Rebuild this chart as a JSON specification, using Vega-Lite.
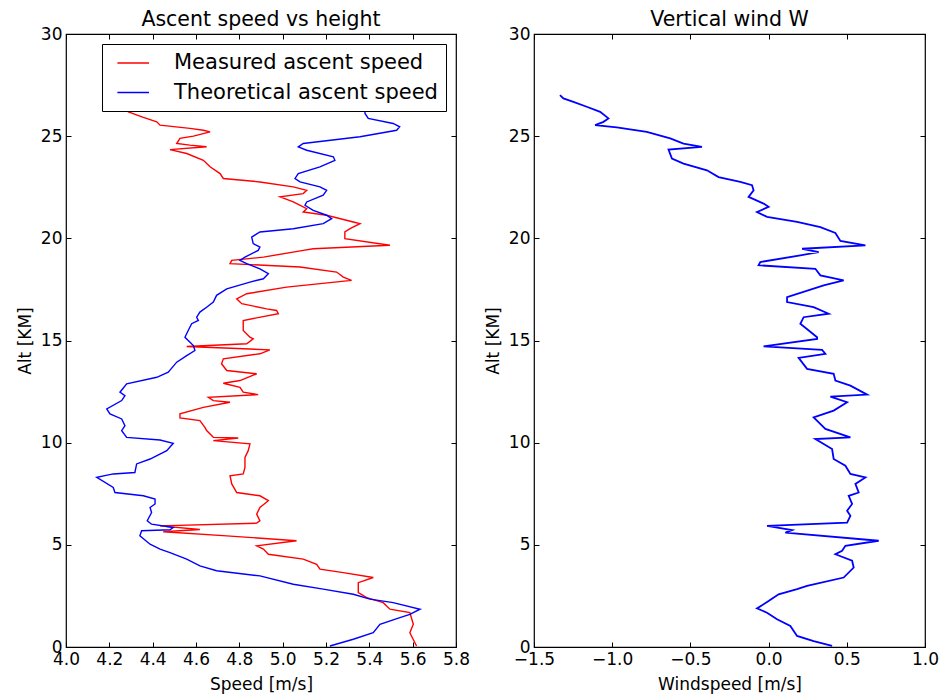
{
  "$schema": "https://vega.github.io/schema/vega-lite/v6.json",
  "background": "white",
  "padding": {"left": 15, "top": 8, "right": 5, "bottom": 2},
  "autosize": {"type": "pad"},
  "bounds": "flush",
  "spacing": 78,
  "config": {
    "font": "DejaVu Sans",
    "view": {"stroke": "black", "strokeWidth": 1.2},
    "axis": {
      "domain": false,
      "grid": false,
      "ticks": true,
      "tickSize": -5,
      "tickColor": "black",
      "tickWidth": 1,
      "labelFont": "DejaVu Sans",
      "labelFontSize": 17,
      "labelColor": "black",
      "labelFlush": false,
      "labelPadding": 9,
      "titleFont": "DejaVu Sans",
      "titleFontSize": 17,
      "titleFontWeight": "normal",
      "titleColor": "black"
    },
    "title": {"font": "DejaVu Sans", "fontSize": 20.5, "fontWeight": "normal", "color": "black", "offset": -5}
  },
  "datasets": {
    "ascent": [
      {"s": "Measured ascent speed", "i": 1, "v": 4.20, "alt": 26.9},
      {"s": "Measured ascent speed", "i": 2, "v": 4.288, "alt": 26.19},
      {"s": "Measured ascent speed", "i": 3, "v": 4.357, "alt": 25.92},
      {"s": "Measured ascent speed", "i": 4, "v": 4.419, "alt": 25.70},
      {"s": "Measured ascent speed", "i": 5, "v": 4.434, "alt": 25.54},
      {"s": "Measured ascent speed", "i": 6, "v": 4.572, "alt": 25.38},
      {"s": "Measured ascent speed", "i": 7, "v": 4.634, "alt": 25.29},
      {"s": "Measured ascent speed", "i": 8, "v": 4.665, "alt": 25.21},
      {"s": "Measured ascent speed", "i": 9, "v": 4.588, "alt": 25.00},
      {"s": "Measured ascent speed", "i": 10, "v": 4.526, "alt": 24.89},
      {"s": "Measured ascent speed", "i": 11, "v": 4.511, "alt": 24.64},
      {"s": "Measured ascent speed", "i": 12, "v": 4.572, "alt": 24.56},
      {"s": "Measured ascent speed", "i": 13, "v": 4.649, "alt": 24.48},
      {"s": "Measured ascent speed", "i": 14, "v": 4.480, "alt": 24.34},
      {"s": "Measured ascent speed", "i": 15, "v": 4.557, "alt": 24.15},
      {"s": "Measured ascent speed", "i": 16, "v": 4.634, "alt": 23.82},
      {"s": "Measured ascent speed", "i": 17, "v": 4.665, "alt": 23.50},
      {"s": "Measured ascent speed", "i": 18, "v": 4.711, "alt": 23.17},
      {"s": "Measured ascent speed", "i": 19, "v": 4.726, "alt": 22.93},
      {"s": "Measured ascent speed", "i": 20, "v": 4.895, "alt": 22.76},
      {"s": "Measured ascent speed", "i": 21, "v": 5.049, "alt": 22.52},
      {"s": "Measured ascent speed", "i": 22, "v": 5.111, "alt": 22.35},
      {"s": "Measured ascent speed", "i": 23, "v": 5.095, "alt": 22.19},
      {"s": "Measured ascent speed", "i": 24, "v": 4.988, "alt": 22.03},
      {"s": "Measured ascent speed", "i": 25, "v": 5.049, "alt": 21.78},
      {"s": "Measured ascent speed", "i": 26, "v": 5.111, "alt": 21.45},
      {"s": "Measured ascent speed", "i": 27, "v": 5.095, "alt": 21.29},
      {"s": "Measured ascent speed", "i": 28, "v": 5.203, "alt": 21.13},
      {"s": "Measured ascent speed", "i": 29, "v": 5.326, "alt": 20.80},
      {"s": "Measured ascent speed", "i": 30, "v": 5.357, "alt": 20.72},
      {"s": "Measured ascent speed", "i": 31, "v": 5.311, "alt": 20.47},
      {"s": "Measured ascent speed", "i": 32, "v": 5.287, "alt": 20.31},
      {"s": "Measured ascent speed", "i": 33, "v": 5.287, "alt": 19.98},
      {"s": "Measured ascent speed", "i": 34, "v": 5.495, "alt": 19.66},
      {"s": "Measured ascent speed", "i": 35, "v": 5.141, "alt": 19.49},
      {"s": "Measured ascent speed", "i": 36, "v": 5.095, "alt": 19.41},
      {"s": "Measured ascent speed", "i": 37, "v": 4.911, "alt": 19.08},
      {"s": "Measured ascent speed", "i": 38, "v": 4.765, "alt": 18.92},
      {"s": "Measured ascent speed", "i": 39, "v": 4.757, "alt": 18.76},
      {"s": "Measured ascent speed", "i": 40, "v": 5.080, "alt": 18.60},
      {"s": "Measured ascent speed", "i": 41, "v": 5.249, "alt": 18.35},
      {"s": "Measured ascent speed", "i": 42, "v": 5.280, "alt": 18.10},
      {"s": "Measured ascent speed", "i": 43, "v": 5.318, "alt": 17.94},
      {"s": "Measured ascent speed", "i": 44, "v": 5.018, "alt": 17.61},
      {"s": "Measured ascent speed", "i": 45, "v": 4.834, "alt": 17.29},
      {"s": "Measured ascent speed", "i": 46, "v": 4.788, "alt": 17.04},
      {"s": "Measured ascent speed", "i": 47, "v": 4.811, "alt": 16.80},
      {"s": "Measured ascent speed", "i": 48, "v": 4.926, "alt": 16.55},
      {"s": "Measured ascent speed", "i": 49, "v": 4.972, "alt": 16.47},
      {"s": "Measured ascent speed", "i": 50, "v": 4.980, "alt": 16.31},
      {"s": "Measured ascent speed", "i": 51, "v": 4.818, "alt": 15.98},
      {"s": "Measured ascent speed", "i": 52, "v": 4.818, "alt": 15.49},
      {"s": "Measured ascent speed", "i": 53, "v": 4.849, "alt": 15.16},
      {"s": "Measured ascent speed", "i": 54, "v": 4.864, "alt": 15.08},
      {"s": "Measured ascent speed", "i": 55, "v": 4.834, "alt": 14.84},
      {"s": "Measured ascent speed", "i": 56, "v": 4.557, "alt": 14.71},
      {"s": "Measured ascent speed", "i": 57, "v": 4.941, "alt": 14.54},
      {"s": "Measured ascent speed", "i": 58, "v": 4.895, "alt": 14.35},
      {"s": "Measured ascent speed", "i": 59, "v": 4.726, "alt": 14.10},
      {"s": "Measured ascent speed", "i": 60, "v": 4.718, "alt": 13.86},
      {"s": "Measured ascent speed", "i": 61, "v": 4.742, "alt": 13.53},
      {"s": "Measured ascent speed", "i": 62, "v": 4.880, "alt": 13.37},
      {"s": "Measured ascent speed", "i": 63, "v": 4.803, "alt": 13.04},
      {"s": "Measured ascent speed", "i": 64, "v": 4.726, "alt": 12.91},
      {"s": "Measured ascent speed", "i": 65, "v": 4.803, "alt": 12.71},
      {"s": "Measured ascent speed", "i": 66, "v": 4.818, "alt": 12.47},
      {"s": "Measured ascent speed", "i": 67, "v": 4.887, "alt": 12.35},
      {"s": "Measured ascent speed", "i": 68, "v": 4.657, "alt": 12.22},
      {"s": "Measured ascent speed", "i": 69, "v": 4.680, "alt": 12.06},
      {"s": "Measured ascent speed", "i": 70, "v": 4.757, "alt": 11.98},
      {"s": "Measured ascent speed", "i": 71, "v": 4.634, "alt": 11.73},
      {"s": "Measured ascent speed", "i": 72, "v": 4.526, "alt": 11.41},
      {"s": "Measured ascent speed", "i": 73, "v": 4.526, "alt": 11.21},
      {"s": "Measured ascent speed", "i": 74, "v": 4.618, "alt": 11.08},
      {"s": "Measured ascent speed", "i": 75, "v": 4.641, "alt": 10.75},
      {"s": "Measured ascent speed", "i": 76, "v": 4.649, "alt": 10.59},
      {"s": "Measured ascent speed", "i": 77, "v": 4.680, "alt": 10.26},
      {"s": "Measured ascent speed", "i": 78, "v": 4.795, "alt": 10.23},
      {"s": "Measured ascent speed", "i": 79, "v": 4.680, "alt": 10.10},
      {"s": "Measured ascent speed", "i": 80, "v": 4.849, "alt": 9.94},
      {"s": "Measured ascent speed", "i": 81, "v": 4.841, "alt": 9.61},
      {"s": "Measured ascent speed", "i": 82, "v": 4.826, "alt": 9.28},
      {"s": "Measured ascent speed", "i": 83, "v": 4.826, "alt": 8.79},
      {"s": "Measured ascent speed", "i": 84, "v": 4.818, "alt": 8.47},
      {"s": "Measured ascent speed", "i": 85, "v": 4.757, "alt": 8.38},
      {"s": "Measured ascent speed", "i": 86, "v": 4.765, "alt": 7.98},
      {"s": "Measured ascent speed", "i": 87, "v": 4.788, "alt": 7.56},
      {"s": "Measured ascent speed", "i": 88, "v": 4.895, "alt": 7.40},
      {"s": "Measured ascent speed", "i": 89, "v": 4.934, "alt": 7.16},
      {"s": "Measured ascent speed", "i": 90, "v": 4.895, "alt": 6.83},
      {"s": "Measured ascent speed", "i": 91, "v": 4.880, "alt": 6.50},
      {"s": "Measured ascent speed", "i": 92, "v": 4.895, "alt": 6.18},
      {"s": "Measured ascent speed", "i": 93, "v": 4.880, "alt": 6.06},
      {"s": "Measured ascent speed", "i": 94, "v": 4.434, "alt": 5.93},
      {"s": "Measured ascent speed", "i": 95, "v": 4.618, "alt": 5.75},
      {"s": "Measured ascent speed", "i": 96, "v": 4.449, "alt": 5.64},
      {"s": "Measured ascent speed", "i": 97, "v": 4.742, "alt": 5.44},
      {"s": "Measured ascent speed", "i": 98, "v": 5.064, "alt": 5.20},
      {"s": "Measured ascent speed", "i": 99, "v": 4.880, "alt": 4.95},
      {"s": "Measured ascent speed", "i": 100, "v": 4.911, "alt": 4.79},
      {"s": "Measured ascent speed", "i": 101, "v": 4.934, "alt": 4.54},
      {"s": "Measured ascent speed", "i": 102, "v": 5.095, "alt": 4.30},
      {"s": "Measured ascent speed", "i": 103, "v": 5.157, "alt": 4.05},
      {"s": "Measured ascent speed", "i": 104, "v": 5.172, "alt": 3.81},
      {"s": "Measured ascent speed", "i": 105, "v": 5.280, "alt": 3.64},
      {"s": "Measured ascent speed", "i": 106, "v": 5.418, "alt": 3.40},
      {"s": "Measured ascent speed", "i": 107, "v": 5.349, "alt": 3.15},
      {"s": "Measured ascent speed", "i": 108, "v": 5.349, "alt": 2.66},
      {"s": "Measured ascent speed", "i": 109, "v": 5.388, "alt": 2.42},
      {"s": "Measured ascent speed", "i": 110, "v": 5.464, "alt": 2.17},
      {"s": "Measured ascent speed", "i": 111, "v": 5.495, "alt": 1.85},
      {"s": "Measured ascent speed", "i": 112, "v": 5.587, "alt": 1.68},
      {"s": "Measured ascent speed", "i": 113, "v": 5.603, "alt": 1.11},
      {"s": "Measured ascent speed", "i": 114, "v": 5.587, "alt": 0.70},
      {"s": "Measured ascent speed", "i": 115, "v": 5.618, "alt": 0.05},
      {"s": "Theoretical ascent speed", "i": 1, "v": 5.38, "alt": 26.9},
      {"s": "Theoretical ascent speed", "i": 2, "v": 5.38, "alt": 26.11},
      {"s": "Theoretical ascent speed", "i": 3, "v": 5.395, "alt": 25.87},
      {"s": "Theoretical ascent speed", "i": 4, "v": 5.51, "alt": 25.62},
      {"s": "Theoretical ascent speed", "i": 5, "v": 5.54, "alt": 25.46},
      {"s": "Theoretical ascent speed", "i": 6, "v": 5.526, "alt": 25.29},
      {"s": "Theoretical ascent speed", "i": 7, "v": 5.357, "alt": 24.97},
      {"s": "Theoretical ascent speed", "i": 8, "v": 5.095, "alt": 24.64},
      {"s": "Theoretical ascent speed", "i": 9, "v": 5.072, "alt": 24.48},
      {"s": "Theoretical ascent speed", "i": 10, "v": 5.111, "alt": 24.31},
      {"s": "Theoretical ascent speed", "i": 11, "v": 5.234, "alt": 23.99},
      {"s": "Theoretical ascent speed", "i": 12, "v": 5.241, "alt": 23.82},
      {"s": "Theoretical ascent speed", "i": 13, "v": 5.172, "alt": 23.50},
      {"s": "Theoretical ascent speed", "i": 14, "v": 5.072, "alt": 23.17},
      {"s": "Theoretical ascent speed", "i": 15, "v": 5.057, "alt": 22.93},
      {"s": "Theoretical ascent speed", "i": 16, "v": 5.080, "alt": 22.76},
      {"s": "Theoretical ascent speed", "i": 17, "v": 5.172, "alt": 22.52},
      {"s": "Theoretical ascent speed", "i": 18, "v": 5.203, "alt": 22.35},
      {"s": "Theoretical ascent speed", "i": 19, "v": 5.187, "alt": 22.11},
      {"s": "Theoretical ascent speed", "i": 20, "v": 5.111, "alt": 21.78},
      {"s": "Theoretical ascent speed", "i": 21, "v": 5.103, "alt": 21.62},
      {"s": "Theoretical ascent speed", "i": 22, "v": 5.141, "alt": 21.37},
      {"s": "Theoretical ascent speed", "i": 23, "v": 5.203, "alt": 21.13},
      {"s": "Theoretical ascent speed", "i": 24, "v": 5.226, "alt": 20.96},
      {"s": "Theoretical ascent speed", "i": 25, "v": 5.187, "alt": 20.72},
      {"s": "Theoretical ascent speed", "i": 26, "v": 5.049, "alt": 20.47},
      {"s": "Theoretical ascent speed", "i": 27, "v": 4.895, "alt": 20.31},
      {"s": "Theoretical ascent speed", "i": 28, "v": 4.857, "alt": 20.06},
      {"s": "Theoretical ascent speed", "i": 29, "v": 4.864, "alt": 19.74},
      {"s": "Theoretical ascent speed", "i": 30, "v": 4.895, "alt": 19.57},
      {"s": "Theoretical ascent speed", "i": 31, "v": 4.887, "alt": 19.41},
      {"s": "Theoretical ascent speed", "i": 32, "v": 4.826, "alt": 19.08},
      {"s": "Theoretical ascent speed", "i": 33, "v": 4.803, "alt": 18.92},
      {"s": "Theoretical ascent speed", "i": 34, "v": 4.834, "alt": 18.76},
      {"s": "Theoretical ascent speed", "i": 35, "v": 4.895, "alt": 18.51},
      {"s": "Theoretical ascent speed", "i": 36, "v": 4.934, "alt": 18.27},
      {"s": "Theoretical ascent speed", "i": 37, "v": 4.911, "alt": 18.02},
      {"s": "Theoretical ascent speed", "i": 38, "v": 4.849, "alt": 17.86},
      {"s": "Theoretical ascent speed", "i": 39, "v": 4.742, "alt": 17.53},
      {"s": "Theoretical ascent speed", "i": 40, "v": 4.695, "alt": 17.21},
      {"s": "Theoretical ascent speed", "i": 41, "v": 4.680, "alt": 16.88},
      {"s": "Theoretical ascent speed", "i": 42, "v": 4.649, "alt": 16.63},
      {"s": "Theoretical ascent speed", "i": 43, "v": 4.618, "alt": 16.39},
      {"s": "Theoretical ascent speed", "i": 44, "v": 4.603, "alt": 16.14},
      {"s": "Theoretical ascent speed", "i": 45, "v": 4.611, "alt": 15.98},
      {"s": "Theoretical ascent speed", "i": 46, "v": 4.580, "alt": 15.82},
      {"s": "Theoretical ascent speed", "i": 47, "v": 4.564, "alt": 15.49},
      {"s": "Theoretical ascent speed", "i": 48, "v": 4.549, "alt": 15.16},
      {"s": "Theoretical ascent speed", "i": 49, "v": 4.588, "alt": 14.75},
      {"s": "Theoretical ascent speed", "i": 50, "v": 4.595, "alt": 14.51},
      {"s": "Theoretical ascent speed", "i": 51, "v": 4.557, "alt": 14.26},
      {"s": "Theoretical ascent speed", "i": 52, "v": 4.511, "alt": 13.94},
      {"s": "Theoretical ascent speed", "i": 53, "v": 4.472, "alt": 13.45},
      {"s": "Theoretical ascent speed", "i": 54, "v": 4.419, "alt": 13.20},
      {"s": "Theoretical ascent speed", "i": 55, "v": 4.280, "alt": 12.88},
      {"s": "Theoretical ascent speed", "i": 56, "v": 4.249, "alt": 12.47},
      {"s": "Theoretical ascent speed", "i": 57, "v": 4.272, "alt": 12.30},
      {"s": "Theoretical ascent speed", "i": 58, "v": 4.257, "alt": 12.06},
      {"s": "Theoretical ascent speed", "i": 59, "v": 4.188, "alt": 11.65},
      {"s": "Theoretical ascent speed", "i": 60, "v": 4.203, "alt": 11.41},
      {"s": "Theoretical ascent speed", "i": 61, "v": 4.257, "alt": 11.16},
      {"s": "Theoretical ascent speed", "i": 62, "v": 4.272, "alt": 10.83},
      {"s": "Theoretical ascent speed", "i": 63, "v": 4.257, "alt": 10.59},
      {"s": "Theoretical ascent speed", "i": 64, "v": 4.280, "alt": 10.26},
      {"s": "Theoretical ascent speed", "i": 65, "v": 4.434, "alt": 10.13},
      {"s": "Theoretical ascent speed", "i": 66, "v": 4.495, "alt": 9.97},
      {"s": "Theoretical ascent speed", "i": 67, "v": 4.465, "alt": 9.61},
      {"s": "Theoretical ascent speed", "i": 68, "v": 4.388, "alt": 9.20},
      {"s": "Theoretical ascent speed", "i": 69, "v": 4.326, "alt": 8.96},
      {"s": "Theoretical ascent speed", "i": 70, "v": 4.318, "alt": 8.54},
      {"s": "Theoretical ascent speed", "i": 71, "v": 4.218, "alt": 8.47},
      {"s": "Theoretical ascent speed", "i": 72, "v": 4.142, "alt": 8.30},
      {"s": "Theoretical ascent speed", "i": 73, "v": 4.218, "alt": 7.81},
      {"s": "Theoretical ascent speed", "i": 74, "v": 4.226, "alt": 7.56},
      {"s": "Theoretical ascent speed", "i": 75, "v": 4.357, "alt": 7.40},
      {"s": "Theoretical ascent speed", "i": 76, "v": 4.411, "alt": 7.24},
      {"s": "Theoretical ascent speed", "i": 77, "v": 4.411, "alt": 7.00},
      {"s": "Theoretical ascent speed", "i": 78, "v": 4.388, "alt": 6.83},
      {"s": "Theoretical ascent speed", "i": 79, "v": 4.395, "alt": 6.58},
      {"s": "Theoretical ascent speed", "i": 80, "v": 4.375, "alt": 6.18},
      {"s": "Theoretical ascent speed", "i": 81, "v": 4.395, "alt": 6.01},
      {"s": "Theoretical ascent speed", "i": 82, "v": 4.495, "alt": 5.85},
      {"s": "Theoretical ascent speed", "i": 83, "v": 4.480, "alt": 5.74},
      {"s": "Theoretical ascent speed", "i": 84, "v": 4.349, "alt": 5.69},
      {"s": "Theoretical ascent speed", "i": 85, "v": 4.341, "alt": 5.44},
      {"s": "Theoretical ascent speed", "i": 86, "v": 4.388, "alt": 5.03},
      {"s": "Theoretical ascent speed", "i": 87, "v": 4.434, "alt": 4.79},
      {"s": "Theoretical ascent speed", "i": 88, "v": 4.480, "alt": 4.62},
      {"s": "Theoretical ascent speed", "i": 89, "v": 4.557, "alt": 4.30},
      {"s": "Theoretical ascent speed", "i": 90, "v": 4.618, "alt": 3.97},
      {"s": "Theoretical ascent speed", "i": 91, "v": 4.695, "alt": 3.73},
      {"s": "Theoretical ascent speed", "i": 92, "v": 4.895, "alt": 3.48},
      {"s": "Theoretical ascent speed", "i": 93, "v": 5.049, "alt": 3.07},
      {"s": "Theoretical ascent speed", "i": 94, "v": 5.187, "alt": 2.83},
      {"s": "Theoretical ascent speed", "i": 95, "v": 5.326, "alt": 2.58},
      {"s": "Theoretical ascent speed", "i": 96, "v": 5.403, "alt": 2.34},
      {"s": "Theoretical ascent speed", "i": 97, "v": 5.510, "alt": 2.17},
      {"s": "Theoretical ascent speed", "i": 98, "v": 5.634, "alt": 1.85},
      {"s": "Theoretical ascent speed", "i": 99, "v": 5.587, "alt": 1.60},
      {"s": "Theoretical ascent speed", "i": 100, "v": 5.541, "alt": 1.44},
      {"s": "Theoretical ascent speed", "i": 101, "v": 5.449, "alt": 1.11},
      {"s": "Theoretical ascent speed", "i": 102, "v": 5.418, "alt": 0.70},
      {"s": "Theoretical ascent speed", "i": 103, "v": 5.326, "alt": 0.38},
      {"s": "Theoretical ascent speed", "i": 104, "v": 5.218, "alt": 0.05}
    ],
    "wind": [
      {"i": 1, "w": -1.334, "alt": 27.01},
      {"i": 2, "w": -1.312, "alt": 26.85},
      {"i": 3, "w": -1.248, "alt": 26.68},
      {"i": 4, "w": -1.163, "alt": 26.44},
      {"i": 5, "w": -1.077, "alt": 26.19},
      {"i": 6, "w": -1.024, "alt": 25.87},
      {"i": 7, "w": -1.056, "alt": 25.70},
      {"i": 8, "w": -1.109, "alt": 25.54},
      {"i": 9, "w": -0.971, "alt": 25.43},
      {"i": 10, "w": -0.779, "alt": 25.21},
      {"i": 11, "w": -0.629, "alt": 24.89},
      {"i": 12, "w": -0.544, "alt": 24.64},
      {"i": 13, "w": -0.426, "alt": 24.48},
      {"i": 14, "w": -0.640, "alt": 24.34},
      {"i": 15, "w": -0.618, "alt": 23.90},
      {"i": 16, "w": -0.544, "alt": 23.66},
      {"i": 17, "w": -0.394, "alt": 23.33},
      {"i": 18, "w": -0.320, "alt": 23.00},
      {"i": 19, "w": -0.181, "alt": 22.76},
      {"i": 20, "w": -0.106, "alt": 22.60},
      {"i": 21, "w": -0.096, "alt": 22.35},
      {"i": 22, "w": -0.128, "alt": 22.03},
      {"i": 23, "w": -0.032, "alt": 21.70},
      {"i": 24, "w": 0.0, "alt": 21.54},
      {"i": 25, "w": -0.074, "alt": 21.29},
      {"i": 26, "w": -0.010, "alt": 21.05},
      {"i": 27, "w": 0.182, "alt": 20.80},
      {"i": 28, "w": 0.331, "alt": 20.55},
      {"i": 29, "w": 0.427, "alt": 20.26},
      {"i": 30, "w": 0.459, "alt": 19.87},
      {"i": 31, "w": 0.619, "alt": 19.66},
      {"i": 32, "w": 0.214, "alt": 19.49},
      {"i": 33, "w": 0.320, "alt": 19.33},
      {"i": 34, "w": 0.203, "alt": 19.17},
      {"i": 35, "w": -0.053, "alt": 18.84},
      {"i": 36, "w": -0.064, "alt": 18.68},
      {"i": 37, "w": 0.299, "alt": 18.51},
      {"i": 38, "w": 0.331, "alt": 18.19},
      {"i": 39, "w": 0.480, "alt": 17.94},
      {"i": 40, "w": 0.352, "alt": 17.70},
      {"i": 41, "w": 0.118, "alt": 17.12},
      {"i": 42, "w": 0.118, "alt": 16.88},
      {"i": 43, "w": 0.288, "alt": 16.63},
      {"i": 44, "w": 0.384, "alt": 16.31},
      {"i": 45, "w": 0.224, "alt": 16.14},
      {"i": 46, "w": 0.203, "alt": 15.82},
      {"i": 47, "w": 0.310, "alt": 15.16},
      {"i": 48, "w": 0.310, "alt": 15.08},
      {"i": 49, "w": -0.032, "alt": 14.71},
      {"i": 50, "w": 0.342, "alt": 14.54},
      {"i": 51, "w": 0.363, "alt": 14.35},
      {"i": 52, "w": 0.192, "alt": 14.15},
      {"i": 53, "w": 0.246, "alt": 13.61},
      {"i": 54, "w": 0.416, "alt": 13.37},
      {"i": 55, "w": 0.427, "alt": 13.04},
      {"i": 56, "w": 0.523, "alt": 12.79},
      {"i": 57, "w": 0.630, "alt": 12.35},
      {"i": 58, "w": 0.395, "alt": 12.25},
      {"i": 59, "w": 0.502, "alt": 11.98},
      {"i": 60, "w": 0.416, "alt": 11.57},
      {"i": 61, "w": 0.288, "alt": 11.24},
      {"i": 62, "w": 0.363, "alt": 10.67},
      {"i": 63, "w": 0.523, "alt": 10.26},
      {"i": 64, "w": 0.299, "alt": 10.18},
      {"i": 65, "w": 0.406, "alt": 9.69},
      {"i": 66, "w": 0.416, "alt": 9.20},
      {"i": 67, "w": 0.491, "alt": 8.87},
      {"i": 68, "w": 0.523, "alt": 8.47},
      {"i": 69, "w": 0.619, "alt": 8.30},
      {"i": 70, "w": 0.555, "alt": 7.98},
      {"i": 71, "w": 0.576, "alt": 7.56},
      {"i": 72, "w": 0.512, "alt": 7.40},
      {"i": 73, "w": 0.534, "alt": 7.00},
      {"i": 74, "w": 0.502, "alt": 6.67},
      {"i": 75, "w": 0.523, "alt": 6.42},
      {"i": 76, "w": 0.502, "alt": 6.09},
      {"i": 77, "w": -0.010, "alt": 5.93},
      {"i": 78, "w": 0.150, "alt": 5.72},
      {"i": 79, "w": 0.107, "alt": 5.60},
      {"i": 80, "w": 0.704, "alt": 5.20},
      {"i": 81, "w": 0.491, "alt": 4.95},
      {"i": 82, "w": 0.470, "alt": 4.71},
      {"i": 83, "w": 0.427, "alt": 4.54},
      {"i": 84, "w": 0.534, "alt": 4.22},
      {"i": 85, "w": 0.544, "alt": 3.89},
      {"i": 86, "w": 0.480, "alt": 3.40},
      {"i": 87, "w": 0.246, "alt": 2.99},
      {"i": 88, "w": 0.182, "alt": 2.83},
      {"i": 89, "w": 0.064, "alt": 2.58},
      {"i": 90, "w": 0.0, "alt": 2.25},
      {"i": 91, "w": -0.074, "alt": 1.89},
      {"i": 92, "w": -0.010, "alt": 1.68},
      {"i": 93, "w": 0.054, "alt": 1.36},
      {"i": 94, "w": 0.139, "alt": 1.03},
      {"i": 95, "w": 0.182, "alt": 0.54},
      {"i": 96, "w": 0.288, "alt": 0.29},
      {"i": 97, "w": 0.406, "alt": 0.05}
    ]
  },
  "hconcat": [
    {
      "title": {"text": "Ascent speed vs height"},
      "width": 390,
      "height": 613,
      "data": {"name": "ascent"},
      "layer": [
        {
          "mark": {"type": "line", "strokeWidth": 1.4, "clip": true},
          "encoding": {
            "x": {"field": "v", "type": "quantitative", "scale": {"domain": [4.0, 5.8], "nice": false, "zero": false},
                  "axis": {"title": "Speed [m/s]", "values": [4.0, 4.2, 4.4, 4.6, 4.8, 5.0, 5.2, 5.4, 5.6, 5.8], "format": ".1f", "titlePadding": 9}},
            "y": {"field": "alt", "type": "quantitative", "scale": {"domain": [0, 30], "nice": false, "zero": false},
                  "axis": {"title": "Alt [KM]", "values": [0, 5, 10, 15, 20, 25, 30], "titlePadding": 6}},
            "color": {"field": "s", "type": "nominal",
                      "scale": {"domain": ["Measured ascent speed", "Theoretical ascent speed"], "range": ["#ff0000", "#0000ff"]},
                      "legend": {"orient": "none", "legendX": 36, "legendY": 10, "title": null, "symbolType": "M-0.36,0H2.8", "symbolSize": 400, "symbolStrokeWidth": 1.5,
                                 "labelFontSize": 21, "labelFont": "DejaVu Sans", "labelColor": "black", "strokeColor": "black", "fillColor": "white",
                                 "padding": 8, "rowPadding": 8.5, "labelOffset": 42, "cornerRadius": 0, "offset": 0, "labelLimit": 400}},
            "order": {"field": "i", "type": "quantitative"}
          }
        },
        {
          "mark": {"type": "line", "opacity": 0},
          "encoding": {
            "x": {"field": "v", "type": "quantitative", "axis": {"orient": "top", "labels": false, "title": null, "values": [4.0, 4.2, 4.4, 4.6, 4.8, 5.0, 5.2, 5.4, 5.6, 5.8]}},
            "y": {"field": "alt", "type": "quantitative", "axis": {"orient": "right", "labels": false, "title": null, "values": [0, 5, 10, 15, 20, 25, 30]}},
            "detail": {"field": "s", "type": "nominal"}
          }
        }
      ],
      "resolve": {"axis": {"x": "independent", "y": "independent"}}
    },
    {
      "title": {"text": "Vertical wind W"},
      "width": 391,
      "height": 613,
      "data": {"name": "wind"},
      "layer": [
        {
          "mark": {"type": "line", "strokeWidth": 1.8, "color": "#0000ff", "clip": true},
          "encoding": {
            "x": {"field": "w", "type": "quantitative", "scale": {"domain": [-1.5, 1.0], "nice": false, "zero": false},
                  "axis": {"title": "Windspeed [m/s]", "values": [-1.5, -1.0, -0.5, 0.0, 0.5, 1.0], "format": ".1f", "titlePadding": 9}},
            "y": {"field": "alt", "type": "quantitative", "scale": {"domain": [0, 30], "nice": false, "zero": false},
                  "axis": {"title": "Alt [KM]", "values": [0, 5, 10, 15, 20, 25, 30], "titlePadding": 6}},
            "order": {"field": "i", "type": "quantitative"}
          }
        },
        {
          "mark": {"type": "line", "opacity": 0},
          "encoding": {
            "x": {"field": "w", "type": "quantitative", "axis": {"orient": "top", "labels": false, "title": null, "values": [-1.5, -1.0, -0.5, 0.0, 0.5, 1.0]}},
            "y": {"field": "alt", "type": "quantitative", "axis": {"orient": "right", "labels": false, "title": null, "values": [0, 5, 10, 15, 20, 25, 30]}}
          }
        }
      ],
      "resolve": {"axis": {"x": "independent", "y": "independent"}}
    }
  ]
}
